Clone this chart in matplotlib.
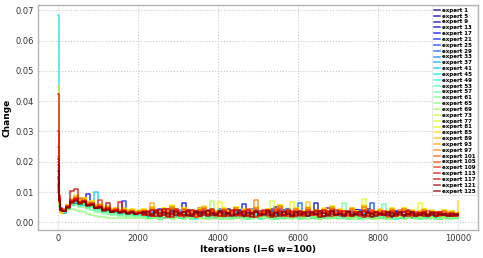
import numpy as np
import matplotlib
matplotlib.use("Agg")
import matplotlib.pyplot as plt

# x positions (iterations) of the logged values
iterations = [0, 25, 50] + list(range(100, 10001, 100))

# values in units of 1e-4: x=0/25/50, then 100..2000, then 2100..10000
e1 = [128, 62, 42,
      38,50,64,74,66,70,58,62,49,52, 42,46,38,42,35,39,33,37,31,34,
      35,22,41,28,18,37,45,24,31,19, 40,26,34,21,47,29,23,38,17,32,
      27,43,20,30,25,39,18,29,44,23, 36,21,31,50,26,19,38,28,33,22,
      30,41,24,18,37,28,46,22,27,34, 20,31,26,40,19,29,44,24,30,17,
      27,36,22,31,16,26,42,21,29,24, 34,19,28,23,33,18,26,31,21,25]
e5 = [118, 58, 40,
      36,48,70,64,76,62,67,54,58,47, 48,40,44,36,40,34,37,31,35,30,
      32,21,40,26,17,36,28,44,23,31, 19,38,27,16,35,24,42,21,30,26,
      39,18,29,36,23,33,16,27,41,22, 31,25,37,19,29,40,24,17,33,27,
      22,35,26,64,31,23,38,17,27,36, 24,31,20,41,26,18,29,35,23,28,
      17,31,24,37,21,28,33,18,26,22, 30,19,35,25,17,28,23,31,20,27]
e9 = [142, 66, 44,
      34,45,62,72,64,75,57,61,50,53, 42,46,38,42,34,38,31,36,32,29,
      36,23,29,42,19,31,26,40,18,33, 64,24,37,21,31,43,18,28,23,38,
      26,33,17,29,41,22,28,35,20,31, 24,39,18,27,34,23,45,20,29,26,
      35,21,31,17,26,39,24,29,20,33, 23,28,41,18,26,32,22,37,17,27,
      25,33,19,29,22,35,16,26,32,21, 28,18,24,33,20,27,23,30,17,25]
e13 = [108, 60, 41,
       35,47,60,68,62,74,95,56,51,45, 47,38,42,35,38,32,36,30,34,29,
       31,19,40,26,21,36,17,29,43,23, 33,20,28,39,17,31,25,45,21,29,
       19,35,27,23,41,17,31,28,20,37, 25,29,44,19,26,33,22,16,31,24,
       38,20,28,25,35,17,29,42,22,27, 19,33,23,31,16,28,38,20,25,29,
       22,27,17,35,23,28,20,31,18,25, 29,17,26,22,33,20,25,16,28,22]
e17 = [124, 64, 43,
       37,49,65,73,67,59,68,54,58,46, 48,40,43,36,39,33,37,31,34,30,
       39,25,32,20,45,29,23,36,18,30, 27,42,22,34,19,29,38,26,16,32,
       24,36,28,21,31,62,26,41,19,29, 34,22,31,17,43,28,21,33,26,37,
       19,29,24,39,16,31,28,22,35,26, 21,33,17,28,42,24,31,19,29,23,
       28,17,33,25,21,37,26,16,29,23, 31,21,27,18,33,25,20,28,23,26]
e21 = [150, 72, 46,
       33,46,62,69,60,65,53,57,46,49, 41,44,36,39,34,72,31,35,29,32,
       29,19,38,25,33,16,28,44,22,31, 26,37,18,29,23,41,20,33,25,15,
       31,27,21,36,28,18,40,23,29,19, 33,25,16,28,38,22,31,27,18,29,
       23,36,19,28,31,16,27,41,22,25, 29,18,34,24,20,28,37,22,27,16,
       25,32,20,28,23,15,30,22,27,18, 24,29,17,26,22,31,18,24,20,23]
e25 = [112, 56, 39,
       32,44,60,67,58,68,55,59,46,50, 40,44,37,40,32,36,30,34,28,31,
       28,18,35,24,15,31,27,40,20,29, 22,33,16,27,38,24,19,29,25,43,
       20,28,24,34,16,27,31,22,38,18, 25,30,20,36,24,15,28,22,33,27,
       18,31,24,28,16,25,39,20,29,22, 27,16,32,24,28,18,25,65,22,29,
       20,27,15,25,30,22,18,28,24,16, 27,20,25,18,24,29,16,22,26,20]
e29 = [102, 54, 38,
       35,47,64,70,75,63,66,53,56,45, 47,39,43,36,38,32,36,30,33,29,
       32,22,41,28,18,36,27,31,17,42, 25,34,21,29,45,23,28,33,19,30,
       27,38,17,29,24,34,21,43,28,22, 31,18,37,27,15,29,41,24,33,64,
       23,28,35,18,31,27,21,39,25,29, 16,33,27,22,37,20,28,31,17,27,
       29,19,35,25,21,31,15,28,23,33, 19,27,30,17,25,28,21,27,18,25]
e33 = [118, 60, 41,
       34,46,59,66,57,62,51,55,44,47, 38,41,34,37,30,34,28,31,26,29,
       28,17,33,23,15,30,20,36,24,16, 29,21,32,14,26,35,19,27,22,15,
       30,24,17,33,21,27,14,25,32,19, 23,29,15,24,36,17,27,21,31,14,
       24,32,18,26,15,29,22,34,17,27, 21,14,30,24,19,32,15,26,22,29,
       18,24,28,14,22,30,19,26,15,23, 27,17,24,21,14,26,19,23,16,22]
e37 = [132, 68, 44,
       33,45,57,64,55,65,50,54,43,46, 37,40,33,36,29,33,27,30,26,28,
       27,15,32,22,13,29,19,35,23,16, 28,20,31,13,25,34,18,26,21,14,
       29,23,16,32,20,26,13,24,31,18, 22,28,14,23,35,16,26,20,30,13,
       23,31,17,25,14,28,21,33,16,26, 20,13,29,23,18,31,14,25,21,28,
       17,23,27,13,21,29,18,25,14,22, 26,16,23,20,13,25,18,22,15,21]
e41 = [125, 64, 43,
       36,48,62,68,59,65,53,56,100,47, 39,43,35,39,32,35,30,33,28,31,
       29,17,34,24,15,31,21,37,26,18, 30,22,33,15,27,36,20,28,23,16,
       31,25,18,34,22,28,15,26,33,20, 24,30,16,25,37,18,28,22,32,15,
       25,33,19,27,16,30,23,35,18,28, 22,15,31,25,20,33,16,27,23,30,
       19,25,29,15,23,31,20,27,16,24, 28,18,25,22,15,27,20,24,17,23]
e45 = [683, 70, 42,
       35,47,60,67,58,64,52,56,45,48, 38,41,34,37,30,34,28,31,26,29,
       26,14,31,21,12,28,18,34,22,15, 27,19,30,12,24,33,17,25,20,13,
       28,22,15,31,19,25,12,23,30,17, 21,27,13,22,34,15,25,19,29,12,
       22,30,16,24,13,27,20,32,15,25, 19,12,28,22,17,30,13,24,20,27,
       16,22,26,12,20,28,17,24,13,21, 25,15,22,19,12,24,17,21,14,20]
e49 = [115, 58, 40,
       37,49,61,66,57,62,51,54,44,47, 37,40,33,36,29,32,27,30,25,28,
       22,29,15,26,13,31,18,24,34,16, 27,20,13,30,22,32,15,25,19,14,
       31,20,27,15,23,33,16,22,29,13, 25,19,32,12,24,21,29,15,27,22,
       17,31,21,14,26,29,18,23,15,32, 22,17,27,20,13,25,30,15,22,19,
       24,14,29,21,17,27,15,22,26,13, 21,27,17,24,14,22,19,15,23,18]
e53 = [110, 55, 39,
       38,50,62,67,58,60,50,52,42,44, 35,38,31,33,27,30,25,28,24,26,
       21,28,14,25,12,30,17,23,33,15, 26,19,12,29,21,31,14,24,18,13,
       30,19,26,14,22,32,15,21,28,12, 24,18,31,11,23,20,28,14,26,21,
       16,30,20,13,25,28,17,22,14,31, 21,16,26,19,12,24,29,14,21,18,
       23,13,28,20,16,26,14,21,25,12, 20,26,16,23,13,21,18,14,22,17]
e57 = [105, 52, 38,
       39,51,63,66,57,58,48,50,40,41, 33,35,29,31,25,28,24,26,22,24,
       19,26,13,23,12,28,16,21,30,14, 24,18,11,27,20,29,13,22,17,12,
       28,17,24,13,21,31,14,20,26,12, 22,16,29,11,21,19,26,13,24,20,
       15,28,19,12,23,26,16,21,13,29, 20,15,25,18,11,23,27,13,20,17,
       62,12,26,19,15,25,13,20,23,11, 19,25,15,22,12,20,17,13,21,16]
e61 = [112, 54, 39,
       38,45,56,59,52,51,43,42,35,33, 28,28,25,24,21,22,19,20,18,19,
       18,13,23,16,11,20,25,13,17,22, 12,19,15,26,13,21,11,17,24,15,
       19,12,22,15,25,14,11,20,17,23, 13,19,12,22,15,26,13,17,21,12,
       15,23,13,19,11,22,17,14,24,15, 65,19,12,17,22,14,20,11,15,23,
       14,19,12,17,21,11,15,22,14,17, 12,20,15,11,19,14,17,12,16,14]
e65 = [108, 50, 37,
       36,40,44,42,37,33,28,24,21,18, 17,16,15,14,15,14,13,14,15,13,
       15,12,17,14,11,16,18,12,14,17, 11,15,13,18,14,11,16,12,15,14,
       12,17,11,14,18,12,15,11,14,17, 13,15,11,16,14,12,18,11,14,15,
       12,11,17,14,12,15,11,14,16,12, 15,11,14,12,17,11,15,13,11,14,
       12,16,11,14,17,11,13,15,11,14, 13,11,15,12,11,14,12,11,14,12]
e69 = [118, 60, 40,
       40,53,65,71,62,67,54,58,47,50, 40,43,36,39,33,36,31,34,29,32,
       24,31,17,28,35,20,26,15,33,22, 29,18,36,24,16,30,21,70,27,15,
       25,32,19,27,14,31,23,35,18,26, 21,29,16,33,24,19,28,14,30,25,
       18,27,34,21,15,29,24,32,17,26, 30,20,16,28,23,35,19,25,14,29,
       22,16,31,24,19,27,14,25,29,18, 23,28,17,21,26,15,24,19,22,18]
e73 = [126, 66, 36,
       42,55,70,79,69,75,62,66,53,56, 45,49,41,45,38,42,36,40,34,37,
       37,26,44,32,23,40,29,48,35,25, 42,30,36,21,39,46,27,34,31,24,
       40,33,26,45,28,37,22,35,43,27, 31,39,24,34,52,26,36,30,41,23,
       33,44,27,35,24,40,31,47,25,37, 29,22,42,33,27,45,24,35,31,38,
       26,33,40,22,30,41,27,36,24,32, 38,25,34,29,22,36,28,33,25,30]
e77 = [134, 68, 32,
       43,57,74,84,72,79,64,69,55,59, 48,52,43,47,40,44,38,42,36,39,
       42,30,49,36,27,45,33,53,39,29, 47,34,40,25,44,51,31,38,35,28,
       45,37,30,50,32,41,26,39,48,31, 35,43,70,38,56,30,40,34,46,27,
       37,49,31,39,28,44,35,52,29,41, 33,26,47,37,31,77,28,39,35,42,
       30,37,45,26,34,46,31,40,28,36, 43,29,38,33,26,40,32,37,29,34]
e81 = [140, 72, 30,
       44,58,76,88,74,81,66,71,56,60, 49,53,44,48,41,45,39,43,37,40,
       44,31,50,37,28,46,34,55,40,30, 48,35,41,26,45,52,32,39,36,66,
       46,38,31,51,33,42,27,38,49,32, 36,44,29,39,57,31,41,66,47,28,
       38,50,32,40,29,45,36,53,30,42, 34,27,48,38,32,55,29,40,36,36,
       31,38,46,27,35,47,32,41,29,64, 44,30,39,34,27,41,33,38,30,35]
e85 = [450, 62, 30,
       45,59,77,90,75,82,67,72,57,61, 50,54,45,49,42,46,40,44,38,41,
       45,32,51,38,29,47,35,56,41,31, 49,36,42,27,46,53,33,40,37,30,
       47,39,32,52,34,43,28,41,50,33, 37,45,30,40,58,32,42,36,48,29,
       39,51,33,41,30,46,37,54,31,43, 35,28,49,39,33,56,30,41,37,44,
       32,39,47,28,36,48,33,42,30,38, 45,31,40,35,28,42,34,39,31,72]
e89 = [160, 64, 34,
       44,57,74,86,72,79,64,68,55,58, 48,51,43,46,40,43,37,41,35,38,
       41,29,47,35,26,44,32,52,38,28, 46,33,39,24,43,50,30,37,34,27,
       44,36,29,49,31,40,25,38,47,30, 34,42,27,37,55,29,39,33,45,26,
       36,66,30,38,27,43,34,51,28,40, 32,25,46,36,30,53,27,38,34,41,
       29,36,44,25,33,45,30,39,27,35, 42,28,37,32,25,39,31,36,28,33]
e93 = [180, 70, 38,
       43,56,73,84,71,77,63,66,54,57, 47,50,42,45,39,42,36,40,34,37,
       40,28,63,34,25,43,31,51,37,27, 45,32,38,23,42,49,29,36,33,26,
       43,35,28,48,30,39,24,37,46,29, 33,41,26,36,54,28,38,32,44,25,
       35,47,29,37,26,42,33,50,27,39, 31,24,45,35,29,52,26,37,33,40,
       28,35,43,24,32,44,29,38,26,34, 41,27,36,31,24,38,30,35,27,32]
e97 = [200, 66, 40,
       42,55,71,79,81,70,65,63,53,56, 46,49,41,44,38,41,35,39,33,36,
       39,27,46,33,24,42,30,50,36,26, 44,31,37,22,41,48,28,35,32,25,
       42,34,27,47,29,38,23,36,74,28, 32,40,25,35,53,27,37,31,43,24,
       34,46,28,36,25,41,32,49,26,38, 30,23,44,34,28,51,25,36,32,39,
       27,34,42,23,31,43,28,37,25,33, 40,26,35,30,23,37,29,34,26,31]
e101 = [220, 72, 42,
        41,54,70,80,69,75,61,65,52,55, 45,48,40,43,37,40,34,38,32,35,
        36,24,42,29,20,38,31,45,27,22, 40,28,34,19,37,44,25,33,29,21,
        39,30,23,41,27,35,20,32,43,26, 29,37,22,31,46,24,34,28,39,21,
        30,40,25,33,22,38,29,42,24,35, 27,20,39,31,26,41,23,33,28,36,
        25,31,37,21,28,38,24,33,22,30, 35,23,31,27,20,33,25,30,22,27]
e105 = [250, 80, 45,
        40,53,75,82,68,72,60,63,51,54, 44,47,39,42,36,39,33,37,31,34,
        23,35,28,41,21,33,38,26,44,30, 22,36,29,19,40,32,25,43,27,34,
        20,31,39,24,36,28,45,22,33,27, 38,21,30,42,25,35,29,19,37,31,
        24,40,27,33,21,36,28,43,23,32, 38,26,20,34,29,41,22,30,36,25,
        31,19,35,27,40,23,29,33,21,28, 34,24,30,22,36,26,21,31,25,27]
e109 = [300, 85, 44,
        39,52,72,78,67,71,59,62,50,75, 43,46,38,41,35,38,32,36,30,33,
        38,27,21,40,32,25,44,29,35,20, 33,41,26,30,23,39,28,36,21,34,
        42,25,31,37,22,29,40,27,34,20, 36,30,24,43,28,33,21,38,26,31,
        23,35,29,41,25,32,37,21,30,27, 39,24,34,28,20,36,31,42,26,29,
        33,22,38,27,31,24,35,20,29,32, 25,37,28,22,33,26,30,23,28,26]
e113 = [425, 90, 46,
        38,51,70,76,66,69,58,60,49,52, 42,45,37,40,68,37,31,35,29,32,
        25,33,40,22,30,36,19,28,42,31, 24,35,27,38,20,32,29,41,23,30,
        34,21,37,28,24,39,26,31,19,35, 28,40,23,30,36,21,27,33,25,38,
        20,31,35,24,29,42,22,33,27,37, 21,30,25,36,28,19,34,26,31,23,
        38,27,22,32,25,35,20,28,33,24, 30,21,27,34,23,29,25,20,28,24]
e117 = [210, 78, 43,
        37,50,105,110,65,70,57,61,48,51, 41,44,36,39,34,37,31,34,29,32,
        31,39,24,34,28,43,22,30,37,26, 33,20,41,29,35,24,38,27,31,21,
        36,28,42,25,32,20,37,29,34,23, 40,27,31,22,38,26,33,29,21,36,
        28,34,24,39,30,22,35,27,41,25, 29,36,23,32,26,38,21,30,34,27,
        24,35,28,21,33,26,37,23,29,31, 22,27,34,25,30,23,28,26,21,27]
e121 = [190, 74, 42,
        38,50,66,73,63,68,56,59,47,50, 40,65,35,38,33,36,30,33,28,31,
        27,35,21,32,40,25,30,18,36,29, 23,38,27,33,20,31,39,24,29,35,
        22,30,26,41,28,34,21,31,37,24, 27,33,19,36,29,25,40,22,30,28,
        35,23,31,27,38,20,29,34,25,32, 21,37,28,24,33,26,30,19,35,27,
        29,23,32,26,36,21,28,31,24,27, 33,20,26,30,23,28,25,22,27,24]
e125 = [170, 70, 41,
        37,49,65,72,62,66,55,58,46,49, 39,42,34,37,32,35,29,32,27,30,
        33,24,29,37,21,31,27,39,23,30, 35,26,20,33,28,36,22,31,25,38,
        27,32,21,29,35,24,30,19,34,28, 23,37,26,31,22,33,28,20,36,25,
        30,22,34,27,19,32,25,37,23,29, 26,33,21,28,35,24,30,27,22,31,
        25,34,20,28,31,23,27,33,21,26, 29,24,31,22,27,25,20,28,23,26]

expert_ids = [1, 5, 9, 13, 17, 21, 25, 29, 33, 37, 41, 45, 49, 53, 57, 61,
              65, 69, 73, 77, 81, 85, 89, 93, 97, 101, 105, 109, 113, 117, 121, 125]
series = [e1, e5, e9, e13, e17, e21, e25, e29, e33, e37, e41, e45, e49, e53, e57, e61,
          e65, e69, e73, e77, e81, e85, e89, e93, e97, e101, e105, e109, e113, e117, e121, e125]
UNIT = 1e-4

for s, eid in zip(series, expert_ids):
    assert len(s) == len(iterations), (eid, len(s))

fig = plt.figure(figsize=(4.83, 2.58), dpi=100)
ax = fig.add_axes([0.0787, 0.1085, 0.9109, 0.872])

colors = plt.cm.jet(np.linspace(0, 1, len(series)))
for s, eid, c in zip(series, expert_ids, colors):
    ax.plot(iterations, np.array(s) * UNIT, drawstyle="steps-post",
            color=c, alpha=0.8, lw=1.1, label=f"expert {eid}")

ax.set_xlim(-500, 10500)
ax.set_ylim(-0.0025, 0.0717)
ax.set_xticks([0, 2000, 4000, 6000, 8000, 10000])
ax.set_yticks([0.00, 0.01, 0.02, 0.03, 0.04, 0.05, 0.06, 0.07])
ax.yaxis.set_major_formatter(matplotlib.ticker.FormatStrFormatter("%.2f"))
ax.grid(True, linestyle=":", color="#c8c8c8", lw=0.8)
ax.set_axisbelow(True)
for sp in ax.spines.values():
    sp.set_color("#b4b4b4")
    sp.set_linewidth(1.0)
ax.tick_params(length=0, labelsize=6, pad=3, colors="#333333")
ax.set_xlabel("Iterations (l=6 w=100)", fontsize=6.5, fontweight="bold", labelpad=1)
ax.set_ylabel("Change", fontsize=6.5, fontweight="bold", labelpad=3)

leg = ax.legend(loc="upper right", prop={"size": 4.0, "weight": "bold"},
                handlelength=1.2, handletextpad=0.2, labelspacing=0.15,
                borderpad=0.3, borderaxespad=0.2, frameon=True, fancybox=False)
leg.get_frame().set_edgecolor("#dddddd")
leg.get_frame().set_linewidth(0.6)

fig.savefig("out.png", dpi=100)
